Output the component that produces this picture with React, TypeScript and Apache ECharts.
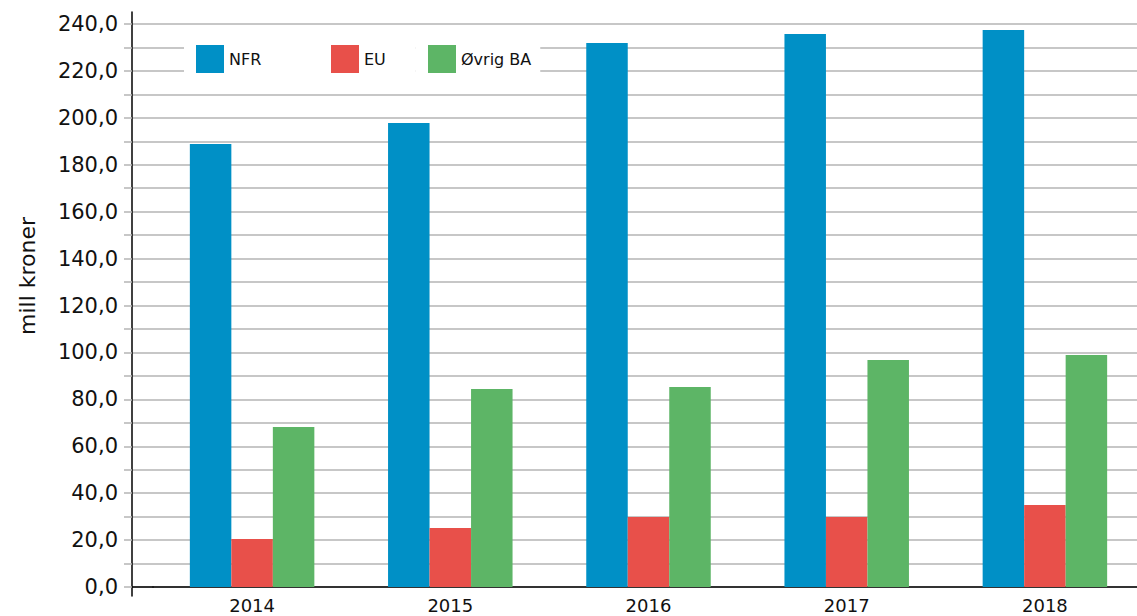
import React, { useEffect, useRef } from "react";
import * as echarts from "echarts";

const years = ["2014", "2015", "2016", "2017", "2018"];
const nfr = [188.8, 197.8, 231.9, 235.7, 237.4];
const eu = [20.5, 25.2, 29.8, 29.8, 35.0];
const ovrig = [68.2, 84.4, 85.3, 96.8, 98.9];
const seriesNames = ["NFR", "EU", "Øvrig BA"];
const colors = ["#0090c6", "#e8504a", "#5db566"];
const yMin = 0;
const yMax = 240;
const yStep = 10;
const yLabelStep = 20;
const yTitle = "mill kroner";

const FONT = "DejaVu Sans";
const GRID_LINE = { color: "#b4b4b4", width: 1.5 };

export default function App() {
  const ref = useRef<HTMLDivElement>(null);
  useEffect(() => {
    if (!ref.current) return;
    const chart = echarts.init(ref.current, undefined, { renderer: "svg" });
    const legendBase = {
      top: 40,
      orient: "horizontal",
      icon: "rect",
      itemWidth: 28,
      itemHeight: 28,
      backgroundColor: "#ffffff",
      textStyle: { fontSize: 16, fontFamily: FONT, color: "#111" },
    };
    chart.setOption({
      animation: false,
      textStyle: { fontFamily: FONT },
      grid: [
        { left: 153, width: 991, top: 24, bottom: 29, containLabel: false, outerBoundsMode: "none" },
        { left: 132, width: 21, top: 24, bottom: 29, containLabel: false, outerBoundsMode: "none" },
        { left: 132, width: 1, top: 12, bottom: 20, containLabel: false, outerBoundsMode: "none" },
      ],
      legend: [
        { ...legendBase, left: 184, padding: [5, 58, 5, 12], data: [seriesNames[0]] },
        { ...legendBase, left: 319, padding: [5, 30, 5, 12], data: [seriesNames[1]] },
        { ...legendBase, left: 416, padding: [5, 9, 5, 12], data: [seriesNames[2]] },
      ],
      xAxis: [
        {
          gridIndex: 0,
          type: "category",
          data: years,
          axisLine: { lineStyle: { color: "#000", width: 1.5 } },
          axisTick: { show: false },
          axisLabel: { fontSize: 18, color: "#111", margin: 9, fontFamily: FONT },
        },
        {
          gridIndex: 1,
          type: "category",
          data: [""],
          axisLine: { lineStyle: { color: "#000", width: 1.5 } },
          axisTick: { show: false },
          axisLabel: { show: false },
        },
        { gridIndex: 2, type: "value", show: false },
      ],
      yAxis: [
        {
          gridIndex: 0,
          type: "value",
          min: yMin,
          max: yMax,
          interval: yStep,
          axisLine: { show: false },
          axisTick: { show: false },
          axisLabel: { show: false },
          splitLine: { lineStyle: GRID_LINE },
        },
        {
          gridIndex: 1,
          type: "value",
          min: yMin,
          max: yMax,
          interval: yStep,
          axisLine: { show: false },
          axisTick: { show: true, length: 8, lineStyle: GRID_LINE },
          axisLabel: {
            margin: 14,
            fontSize: 21,
            color: "#111",
            fontFamily: FONT,
            formatter: (v: number) =>
              v % yLabelStep === 0 ? v.toFixed(1).replace(".", ",") : "",
          },
          splitLine: { lineStyle: GRID_LINE },
        },
        {
          gridIndex: 2,
          type: "value",
          min: yMin - 9 / (563 / (yMax - yMin)),
          max: yMax + 12 / (563 / (yMax - yMin)),
          axisLine: { show: true, lineStyle: { color: "#000", width: 1.5 } },
          axisTick: { show: false },
          axisLabel: { show: false },
          splitLine: { show: false },
        },
      ],
      graphic: [
        {
          type: "text",
          x: 27,
          y: 276,
          rotation: Math.PI / 2,
          style: {
            text: yTitle,
            fontSize: 22,
            fontFamily: FONT,
            fill: "#111",
            align: "center",
            verticalAlign: "middle",
          },
        },
      ],
      series: [nfr, eu, ovrig].map((d, i) => ({
        name: seriesNames[i],
        type: "bar",
        xAxisIndex: 0,
        yAxisIndex: 0,
        data: d,
        barWidth: 41.5,
        barGap: "0%",
        itemStyle: { color: colors[i] },
      })),
    });
    return () => chart.dispose();
  }, []);
  return (
    <div
      ref={ref}
      style={{ position: "fixed", left: 0, top: 0, width: 1137, height: 616, background: "#fff" }}
    />
  );
}
